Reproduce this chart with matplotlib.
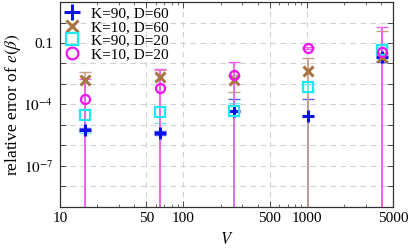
import numpy as np
import matplotlib
matplotlib.use('Agg')
import matplotlib.pyplot as plt
from matplotlib.ticker import FixedLocator, FixedFormatter, LogLocator, NullFormatter

plt.rcParams['font.family'] = ['Liberation Serif', 'DejaVu Serif']
plt.rcParams['mathtext.fontset'] = 'stix'

V = [16, 64, 256, 1024, 4096]

# K=90, D=60
err_k90_d60 = [5.8e-6, 4.0e-6, 4.8e-5, 2.8e-5, 0.020]
sd_k90_d60 = [1e-6, 8e-7, 1.4e-4, 1.6e-4, 0.008]
# K=10, D=60
err_k10_d60 = [1.6e-3, 2.2e-3, 1.6e-3, 4.3e-3, 0.021]
sd_k10_d60 = [2.3e-3, 2.6e-3, 1.2e-3, 0.0147, 0.37]
# K=90, D=20
err_k90_d20 = [3.1e-5, 4.3e-5, 4.8e-5, 7.0e-4, 0.046]
sd_k90_d20 = [2.7e-5, 3.0e-5, 7.0e-5, 3.0e-4, 0.02]
# K=10, D=20
err_k10_d20 = [1.9e-4, 6.3e-4, 2.75e-3, 0.057, 0.036]
sd_k10_d20 = [1.5e-3, 4.8e-3, 9.0e-3, 0.005, 0.56]

series = [
    ('K=90, D=60', err_k90_d60, sd_k90_d60, '#0a14e6', '#5a5af0', dict(marker='+', ms=8.5, mew=2.2, mfc='none')),
    ('K=10, D=60', err_k10_d60, sd_k10_d60, '#a87444', '#c9a08c', dict(marker='x', ms=7, mew=2.2, mfc='none')),
    ('K=90, D=20', err_k90_d20, sd_k90_d20, '#1ee8f0', '#70eef2', dict(marker='s', ms=6.5, mew=1.6, mfc='none')),
    ('K=10, D=20', err_k10_d20, sd_k10_d20, '#f014f0', '#f060f0', dict(marker='o', ms=6.5, mew=1.6, mfc='none')),
]

fig = plt.figure(figsize=(4.09, 2.52), dpi=100)
ax = fig.add_axes([0.147, 0.179, 0.814, 0.813])
ax.set_xscale('log')
ax.set_yscale('log')

for label, y, e, c, ec, mk in series:
    ax.errorbar(V, y, yerr=e, fmt='none', ecolor=ec, elinewidth=1.3, capsize=4, capthick=1.0, zorder=2)
for label, y, e, c, ec, mk in series:
    ax.plot(V, y, linestyle='none', color=c, mec=c, label=label, zorder=3, **mk)

ax.set_xlim(10, 5000)
ax.set_ylim(1e-9, 10)

ax.xaxis.set_major_locator(FixedLocator([10, 50, 100, 500, 1000, 5000]))
ax.xaxis.set_major_formatter(FixedFormatter(['10', '50', '100', '500', '1000', '5000']))
ax.xaxis.set_minor_locator(LogLocator(base=10, subs=np.arange(2, 10)))
ax.xaxis.set_minor_formatter(NullFormatter())

yt = [10.0 ** k for k in range(-9, 2)]
ylab = ['' for _ in yt]
ylab[yt.index(1e-1)] = '0.1'
ylab[yt.index(1e-4)] = r'$10^{-4}$'
ylab[yt.index(1e-7)] = r'$10^{-7}$'
ax.yaxis.set_major_locator(FixedLocator(yt))
ax.yaxis.set_major_formatter(FixedFormatter(ylab))
ax.yaxis.set_minor_locator(FixedLocator([]))

ax.tick_params(which='both', direction='in', top=True, right=True, labelsize=11, colors='#333333', labelcolor='black')
ax.tick_params(which='major', length=4, width=0.6)
ax.tick_params(which='minor', length=2, width=0.5)
ax.tick_params(axis='y', pad=5)
ax.tick_params(axis='x', pad=4)

ax.grid(True, which='major', linestyle=(0, (5, 4)), color='#d2d2d2', linewidth=0.8)
ax.set_axisbelow(True)
for s in ax.spines.values():
    s.set_color('#333333')
    s.set_linewidth(0.9)

ax.set_xlabel(r'$V$', fontsize=12, labelpad=5)
ax.set_ylabel(r'relative error of $e(\beta)$', fontsize=12.5, labelpad=0)

ax.legend(loc='upper left', frameon=False, fontsize=11, handlelength=1.0, handletextpad=0.7,
          labelspacing=0.0, borderaxespad=0.0, borderpad=0.3, markerscale=1.3)

fig.savefig('out.png', dpi=100)
